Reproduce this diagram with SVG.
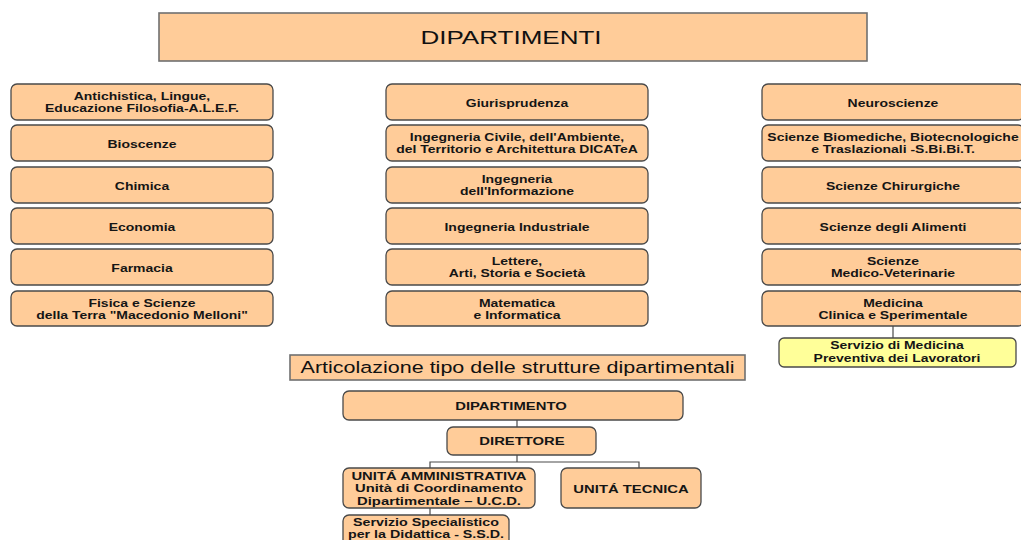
<svg xmlns="http://www.w3.org/2000/svg" width="1021" height="540" viewBox="0 0 1021 540">
<style>
.box{fill:#FFCC99;stroke:#4a4a4a;stroke-width:1.3}
.ybox{fill:#FFFF99;stroke:#4a4a4a;stroke-width:1.3}
.hdr{fill:#FFCC99;stroke:#707070;stroke-width:1.6}
.t{font-family:"Liberation Sans",Arial,sans-serif;font-size:11px;font-weight:bold;text-anchor:middle;fill:#151515}
.tb{font-family:"Liberation Sans",Arial,sans-serif;font-size:11.5px;font-weight:bold;text-anchor:middle;fill:#151515}
.ts{font-family:"Liberation Sans",Arial,sans-serif;font-size:10.5px;font-weight:bold;text-anchor:middle;fill:#151515}
.big{font-family:"Liberation Sans",Arial,sans-serif;font-size:19px;text-anchor:middle;fill:#111}
.mid{font-family:"Liberation Sans",Arial,sans-serif;font-size:16.3px;text-anchor:middle;fill:#111}
.ln{stroke:#4a4a4a;stroke-width:1.2;fill:none}
</style>
<rect width="1021" height="540" fill="#ffffff"/>
<g id="title">
<rect class="hdr" x="159" y="13" width="708" height="48"/>
<text class="big" transform="translate(511,44) scale(1.37,1)">DIPARTIMENTI</text>
</g>
<g id="connectors">
<line class="ln" x1="893" y1="326" x2="893" y2="338"/>
<line class="ln" x1="517" y1="420" x2="517" y2="427"/>
<polyline class="ln" points="517,455 517,462"/>
<polyline class="ln" points="430,468 430,462 639,462 639,468"/>
<line class="ln" x1="430" y1="508" x2="430" y2="515"/>
</g>
<g id="alef"><rect class="box" x="11" y="84" width="262" height="36" rx="6"/>
<text class="t" transform="translate(142,0) scale(1.27,1)"><tspan x="0" y="100.5">Antichistica, Lingue,</tspan><tspan x="0" y="112.5">Educazione Filosofia-A.L.E.F.</tspan></text></g>
<g id="bioscenze"><rect class="box" x="11" y="125" width="262" height="36" rx="6"/>
<text class="t" transform="translate(142,148) scale(1.27,1)">Bioscenze</text></g>
<g id="chimica"><rect class="box" x="11" y="167" width="262" height="36" rx="6"/>
<text class="t" transform="translate(142,190) scale(1.27,1)">Chimica</text></g>
<g id="economia"><rect class="box" x="11" y="208" width="262" height="36" rx="6"/>
<text class="t" transform="translate(142,231) scale(1.27,1)">Economia</text></g>
<g id="farmacia"><rect class="box" x="11" y="249" width="262" height="36" rx="6"/>
<text class="t" transform="translate(142,272) scale(1.27,1)">Farmacia</text></g>
<g id="fisica"><rect class="box" x="11" y="291" width="262" height="35" rx="6"/>
<text class="t" transform="translate(142,0) scale(1.27,1)"><tspan x="0" y="307">Fisica e Scienze</tspan><tspan x="0" y="319.5">della Terra "Macedonio Melloni"</tspan></text></g>

<g id="giurisprudenza"><rect class="box" x="386" y="84" width="262" height="36" rx="6"/>
<text class="t" transform="translate(517,107) scale(1.27,1)">Giurisprudenza</text></g>
<g id="dicatea"><rect class="box" x="386" y="125" width="262" height="36" rx="6"/>
<text class="t" transform="translate(517,0) scale(1.27,1)"><tspan x="0" y="141.5">Ingegneria Civile, dell'Ambiente,</tspan><tspan x="0" y="153.5">del Territorio e Architettura DICATeA</tspan></text></g>
<g id="informazione"><rect class="box" x="386" y="167" width="262" height="36" rx="6"/>
<text class="t" transform="translate(517,0) scale(1.27,1)"><tspan x="0" y="183.5">Ingegneria</tspan><tspan x="0" y="195.5">dell'Informazione</tspan></text></g>
<g id="industriale"><rect class="box" x="386" y="208" width="262" height="36" rx="6"/>
<text class="t" transform="translate(517,231) scale(1.27,1)">Ingegneria Industriale</text></g>
<g id="lettere"><rect class="box" x="386" y="249" width="262" height="36" rx="6"/>
<text class="t" transform="translate(517,0) scale(1.27,1)"><tspan x="0" y="265.5">Lettere,</tspan><tspan x="0" y="277.5">Arti, Storia e Società</tspan></text></g>
<g id="matematica"><rect class="box" x="386" y="291" width="262" height="35" rx="6"/>
<text class="t" transform="translate(517,0) scale(1.27,1)"><tspan x="0" y="307">Matematica</tspan><tspan x="0" y="319.5">e Informatica</tspan></text></g>

<g id="neuroscienze"><rect class="box" x="762" y="84" width="262" height="36" rx="6"/>
<text class="t" transform="translate(893,107) scale(1.27,1)">Neuroscienze</text></g>
<g id="sbibit"><rect class="box" x="762" y="125" width="262" height="36" rx="6"/>
<text class="t" transform="translate(893,0) scale(1.27,1)"><tspan x="0" y="141.5">Scienze Biomediche, Biotecnologiche</tspan><tspan x="0" y="153.5">e Traslazionali -S.Bi.Bi.T.</tspan></text></g>
<g id="chirurgiche"><rect class="box" x="762" y="167" width="262" height="36" rx="6"/>
<text class="t" transform="translate(893,190) scale(1.27,1)">Scienze Chirurgiche</text></g>
<g id="alimenti"><rect class="box" x="762" y="208" width="262" height="36" rx="6"/>
<text class="t" transform="translate(893,231) scale(1.27,1)">Scienze degli Alimenti</text></g>
<g id="veterinarie"><rect class="box" x="762" y="249" width="262" height="36" rx="6"/>
<text class="t" transform="translate(893,0) scale(1.27,1)"><tspan x="0" y="265.5">Scienze</tspan><tspan x="0" y="277.5">Medico-Veterinarie</tspan></text></g>
<g id="medicina"><rect class="box" x="762" y="291" width="262" height="35" rx="6"/>
<text class="t" transform="translate(893,0) scale(1.27,1)"><tspan x="0" y="307">Medicina</tspan><tspan x="0" y="319.5">Clinica e Sperimentale</tspan></text></g>
<g id="medicina-preventiva"><rect class="ybox" x="779" y="338" width="237" height="29" rx="5"/>
<text class="t" transform="translate(897,0) scale(1.27,1)"><tspan x="0" y="349.5">Servizio di Medicina</tspan><tspan x="0" y="362.5">Preventiva dei Lavoratori</tspan></text></g>

<g id="articolazione"><rect class="hdr" x="290" y="355" width="455" height="25"/>
<text class="mid" transform="translate(517.5,373) scale(1.32,1)">Articolazione tipo delle strutture dipartimentali</text></g>
<g id="dipartimento"><rect class="box" x="343" y="391" width="340" height="29" rx="6"/>
<text class="tb" transform="translate(511,410) scale(1.29,1)">DIPARTIMENTO</text></g>
<g id="direttore"><rect class="box" x="447" y="427" width="149" height="28" rx="6"/>
<text class="tb" transform="translate(522,445) scale(1.29,1)">DIRETTORE</text></g>
<g id="unita-amministrativa"><rect class="box" x="343" y="468" width="192" height="40" rx="6"/>
<text class="tb" transform="translate(439,0) scale(1.29,1)"><tspan x="0" y="480">UNITÁ AMMINISTRATIVA</tspan><tspan x="0" y="492.5">Unità di Coordinamento</tspan><tspan x="0" y="505">Dipartimentale – U.C.D.</tspan></text></g>
<g id="unita-tecnica"><rect class="box" x="561" y="468" width="140" height="40" rx="6"/>
<text class="tb" transform="translate(631,492.5) scale(1.29,1)">UNITÁ TECNICA</text></g>
<g id="ssd"><rect class="box" x="343" y="515" width="166" height="40" rx="6"/>
<text class="ts" transform="translate(426,0) scale(1.36,1)"><tspan x="0" y="526.5">Servizio Specialistico</tspan><tspan x="0" y="538">per la Didattica - S.S.D.</tspan></text></g>
</svg>
